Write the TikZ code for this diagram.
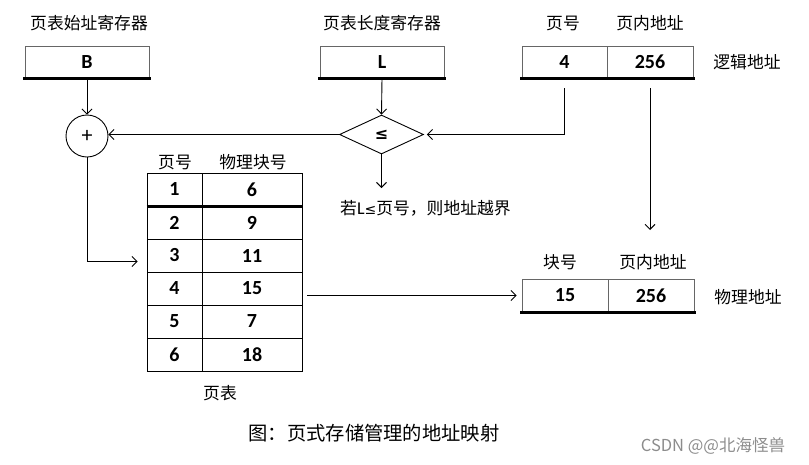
\documentclass[tikz,border=0pt]{standalone}
\usepackage{fontspec}
\setmainfont{Carlito}
\newfontfamily\cjk{Noto Sans CJK SC}
\newfontfamily\symf{DejaVu Sans}
\usetikzlibrary{shapes.geometric,arrows.meta,calc}
\tikzset{
  lbl/.style={font=\cjk\fontsize{16.8}{18}\selectfont, inner sep=0pt},
  num/.style={font=\bfseries\fontsize{20}{22}\selectfont},
  regbox/.style={draw=black!60, line width=0.8pt, minimum height=32pt, inner sep=0pt, num},
  cell/.style={draw=black, line width=0.9pt, minimum height=33pt, inner sep=0pt, num},
  thickbar/.style={line width=2.6pt, line cap=rect},
  arr/.style={line width=0.9pt, -{Straight Barb[length=5pt,width=10pt,line width=0.9pt]}},
  ln/.style={line width=0.9pt}
}
\begin{document}
\begin{tikzpicture}[x=1pt,y=-1pt]
\useasboundingbox (0,0) rectangle (809,464);
% registers
\node[lbl] (tB) at (89,23) {页表始址寄存器};
\node[regbox, minimum width=124pt] (B) at (87,62) {B};
\draw[thickbar] (B.south west) -- (B.south east);
\node[lbl] (tL) at (382,23) {页表长度寄存器};
\node[regbox, minimum width=124pt] (L) at (382,62) {L};
\draw[thickbar] (L.south west) -- (L.south east);
% logical address
\node[lbl] (tla1) at (563,23) {页号};
\node[lbl] (tla2) at (650,23) {页内地址};
\node[regbox, minimum width=85pt] (la1) at (564.5,62) {4};
\node[regbox, minimum width=86pt] (la2) at (650,62) {256};
\draw[thickbar] (la1.south west) -- (la2.south east);
\node[lbl] (tlog) at (747,62) {逻辑地址};
% adder and comparator
\node[draw, circle, line width=0.9pt, minimum size=42pt, inner sep=0pt, font=\fontsize{22}{22}\selectfont] (plus) at (87,136) {+};
\node[draw, diamond, line width=0.9pt, minimum width=84pt, minimum height=39pt, inner sep=0pt, font=\symf\bfseries\fontsize{16}{18}\selectfont] (dia) at (381.5,134.5) {≤};
\draw[arr] (B.south) -- (plus.north);
\draw[arr] (L.south) -- (dia.north);
\draw[arr] (dia.west) -- (dia.west -| plus.east);
\draw[arr] ([yshift=-10pt]la1.south) |- ([xshift=3pt]dia.east);
\coordinate (warnend) at (381.5,188);
\draw[arr] (dia.south) -- (warnend);
\node[lbl, anchor=west] (warn) at (340,208) {若{\rmfamily\fontsize{18}{18}\selectfont L}{\symf\fontsize{14}{18}\selectfont ≤}页号，则地址越界};
% page table
\node[lbl] (th1) at (175,162) {页号};
\node[lbl] (th2) at (253,162) {物理块号};
\foreach \i/\v [evaluate=\i as \yy using 189.5+33*(\i-1)] in {1/6,2/9,3/11,4/15,5/7,6/18}{
  \node[cell, minimum width=55pt] (pa\i) at (174.5,\yy) {\i};
  \node[cell, minimum width=100pt] (pb\i) at (252,\yy) {\v};
}
\draw[thickbar, line cap=butt] (pa1.south west) -- (pb1.south east);
\node[lbl] (tpt) at (220,393) {页表};
\draw[arr] (plus.south) |- ([yshift=-6pt,xshift=-9pt]pa3.west);
% physical address
\node[lbl] (tpa1) at (560,262) {块号};
\node[lbl] (tpa2) at (653,262) {页内地址};
\node[regbox, minimum width=86pt, minimum height=33pt] (pp1) at (565,295.5) {15};
\node[regbox, minimum width=86pt, minimum height=33pt] (pp2) at (651,295.5) {256};
\draw[thickbar] (pp1.south west) -- (pp2.south east);
\node[lbl] (tphy) at (748,297) {物理地址};
\draw[arr] ([xshift=5pt]pb4.east |- pp1.west) -- ([xshift=-5pt]pp1.west);
\coordinate (offend) at (650,230);
\draw[arr] ([yshift=-10pt]la2.south -| offend) -- (offend);
% caption
\node[lbl, font=\cjk\fontsize{19.3}{21}\selectfont] (cap) at (374,433) {图：页式存储管理的地址映射};
\node[lbl, font=\cjk\fontsize{16.5}{18}\selectfont, text=black!45] (wm) at (713,446) {CSDN @@北海怪兽};
\end{tikzpicture}
\end{document}
